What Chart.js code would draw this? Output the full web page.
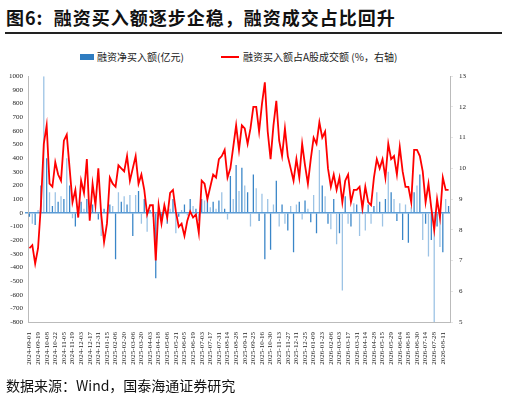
<!DOCTYPE html>
<html><head><meta charset="utf-8">
<script src="https://cdn.jsdelivr.net/npm/chart.js@4.4.3/dist/chart.umd.min.js"></script>
<style>
  body{margin:0;width:508px;height:401px;background:#fff;position:relative;overflow:hidden;font-family:"Noto Sans CJK SC",serif;}
  #title{position:absolute;left:6px;top:4px;font-size:18px;font-weight:bold;color:#111;letter-spacing:1px;}
  #rule{position:absolute;left:5px;top:32px;width:497px;height:2px;background:#222;}
  #legend{position:absolute;top:49px;left:0;width:508px;font-size:10px;color:#222;}
  #legend span{position:absolute;white-space:nowrap;}
  #src{position:absolute;left:6px;top:375px;font-size:14px;color:#111;}
  #wrap{position:absolute;left:0;top:66px;width:508px;height:310px;}
</style></head>
<body>
<div id="title">图6:&nbsp;&nbsp;融资买入额逐步企稳，融资成交占比回升</div>
<div id="rule"></div>
<div id="legend">
  <span style="left:80px;top:5px;width:14px;height:6px;background:#2F7CC0;"></span>
  <span style="left:97px;top:0;">融资净买入额(亿元)</span>
  <span style="left:221px;top:7px;width:18px;height:2px;background:#f00;"></span>
  <span style="left:243px;top:0;">融资买入额占A股成交额 (%，右轴)</span>
</div>
<div id="wrap"><canvas id="c"></canvas></div>
<div id="src">数据来源：Wind，国泰海通证券研究</div>
<script>
// tick labels shown on x axis (one per 3 points)
const tickLabels = ['2024-09-01','2024-09-19','2024-10-08','2024-10-22','2024-11-05','2024-11-19','2024-12-03','2024-12-17','2024-12-31','2025-01-15','2025-02-06','2025-02-20','2025-03-06','2025-03-20','2025-04-03','2025-04-18','2025-05-06','2025-05-21','2025-06-05','2025-06-19','2025-07-03','2025-07-17','2025-07-31','2025-08-14','2025-08-28','2025-09-11','2025-09-25','2025-10-16','2025-10-30','2025-11-13','2025-11-27','2025-12-11','2025-12-25','2026-01-09','2026-01-23','2026-02-06','2026-03-03','2026-03-17','2026-03-31','2026-04-14','2026-04-28','2026-05-15','2026-05-29','2026-06-04','2026-06-18','2026-06-30','2026-07-14','2026-07-28','2026-08-11'];

// 融资净买入额 (亿元)
const netBuy = [-30,-80,-90,20,200,1000,400,150,50,150,80,120,100,400,200,-40,-100,50,80,30,
  100,-30,60,40,-50,-170,30,-10,60,50,-340,150,80,120,60,130,-170,130,160,-80,
  100,-140,20,-30,-480,30,-60,40,-80,30,100,-150,-30,20,60,-20,100,50,30,-60,
  100,90,110,40,80,30,90,150,30,-50,270,100,350,160,330,200,150,-100,280,180,
  -60,140,-340,100,-270,60,235,-100,60,-80,-130,50,-290,60,80,-50,90,30,-70,130,
  -150,460,200,120,-80,-120,100,-230,-150,-570,120,-80,-100,70,60,-170,90,-130,60,-80,
  50,150,80,-100,100,300,150,100,-60,70,-200,60,-220,40,150,200,280,-200,-80,-320,
  -200,-800,-100,-250,-290,100,50];

// 融资买入额占A股成交额 (%, 右轴)
const buyShare = [7.4,7.5,6.9,7.4,8.8,10.8,11.4,9.5,9.4,10.2,9.8,9.6,10.9,11.1,10.0,8.9,9.3,8.4,9.6,9.2,
  10.3,8.3,9.5,8.8,10.0,8.5,7.6,8.2,9.7,9.5,9.4,10.1,10.0,9.9,10.4,9.6,10.0,10.4,9.5,9.8,
  9.3,8.5,8.8,8.8,7.0,8.8,8.2,8.8,8.4,9.2,9.3,8.6,8.1,8.2,7.8,8.3,8.6,8.4,8.5,7.9,
  9.6,9.5,9.0,9.4,9.8,9.7,10.3,10.4,10.6,9.7,10.0,10.7,11.4,10.6,11.4,11.3,10.8,11.3,12.0,12.0,
  11.2,12.1,12.8,11.2,10.3,11.4,12.2,10.9,10.4,11.3,10.4,10.0,9.6,10.3,9.7,10.8,10.1,9.5,10.3,11.0,
  10.8,11.5,11.0,11.2,10.0,9.4,9.8,9.3,9.7,8.9,9.6,9.8,8.9,9.3,9.3,9.4,8.7,9.4,8.9,8.8,
  9.7,10.3,10.0,10.3,9.7,10.8,10.3,10.4,9.8,10.7,9.9,9.4,9.4,8.9,10.6,10.6,10.4,9.9,8.9,9.5,
  8.7,8.0,9.0,8.4,9.7,9.3,9.3];

const labels = netBuy.map((_, i) => i % 3 === 0 ? (tickLabels[i / 3] || '') : '');
const tickFont = { family: 'Liberation Serif', size: 7 };

new Chart(document.getElementById('c'), {
  data: {
    labels,
    datasets: [
      { type: 'line', data: buyShare, yAxisID: 'y1', borderColor: '#ff0000', borderWidth: 1.8,
        pointRadius: 0, tension: 0, order: 0 },
      { type: 'bar', data: netBuy, yAxisID: 'y',
        backgroundColor: netBuy.map((_, i) => i % 2 ? '#9CC3E5' : '#3A86C8'),
        barPercentage: 0.45, categoryPercentage: 1, order: 1 }
    ]
  },
  options: {
    animation: false, responsive: true, maintainAspectRatio: false,
    layout: { padding: { top: 6, left: 0, right: 0 } },
    plugins: { legend: { display: false }, tooltip: { enabled: false } },
    scales: {
      x: {
        grid: { display: false }, border: { color: '#bbb' },
        ticks: { autoSkip: false, maxRotation: 90, minRotation: 90, font: tickFont, color: '#222', padding: 2 },
        afterFit: s => { s.height = 54; }
      },
      y: {
        position: 'left', min: -800, max: 1000,
        ticks: { stepSize: 100, font: tickFont, color: '#222', padding: 2, callback: v => String(v) },
        grid: { drawOnChartArea: true, tickLength: 3,
          color: c => c.tick && c.tick.value === 0 ? '#5B9BD5' : 'rgba(0,0,0,0)',
          lineWidth: c => c.tick && c.tick.value === 0 ? 1.5 : 0 },
        border: { color: '#bbb' },
        afterFit: s => { s.width = 28; }
      },
      y1: {
        position: 'right', min: 5, max: 13,
        ticks: { stepSize: 1, font: tickFont, color: '#222', padding: 6 },
        grid: { drawOnChartArea: false, tickLength: 3 }, border: { color: '#bbb' },
        afterFit: s => { s.width = 58; }
      }
    }
  }
});
</script>
</body></html>
